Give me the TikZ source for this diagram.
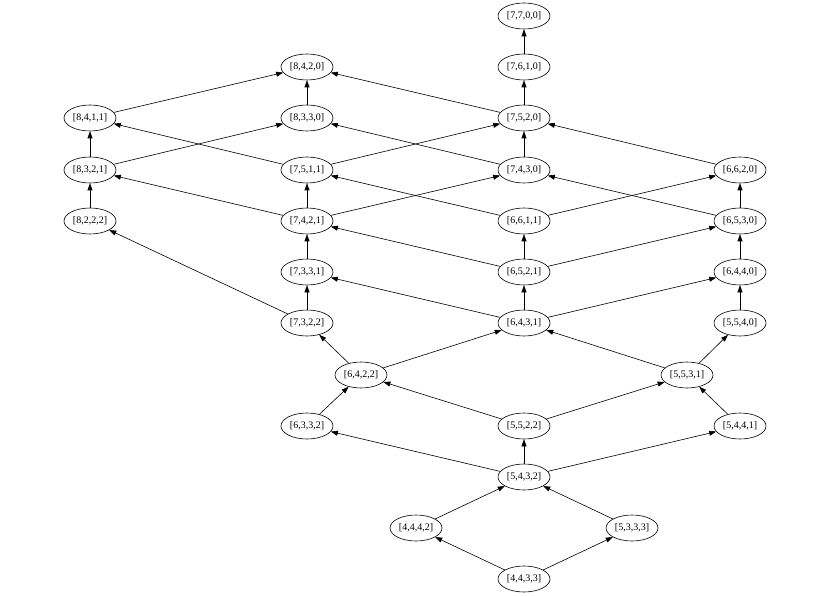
\documentclass[tikz,border=0pt]{standalone}
\usepackage{fontspec}
\setmainfont{Liberation Serif}
\usetikzlibrary{arrows.meta,shapes.geometric}
\begin{document}
\begin{tikzpicture}[x=1pt,y=-1pt,
  part/.style={draw, ellipse, line width=0.6pt, minimum width=52pt, minimum height=26pt, inner sep=0pt, font=\fontsize{10}{12}\selectfont},
  edge/.style={line width=0.6pt, -{Triangle[length=7pt,width=5pt]}}]
\useasboundingbox (0,0) rectangle (830,596);
\def\ra{16}\def\rb{67}\def\rc{118}\def\rd{170}\def\re{221}\def\rf{272}\def\rg{323}\def\rh{375}\def\ri{426}\def\rj{477}\def\rk{528}\def\rl{579}
\node[part] (7700) at (524,\ra) {[7,7,0,0]};
\node[part] (7610) at (524,\rb) {[7,6,1,0]};
\node[part] (8420) at (307,\rb) {[8,4,2,0]};
\node[part] (8411) at (90,\rc) {[8,4,1,1]};
\node[part] (8330) at (307,\rc) {[8,3,3,0]};
\node[part] (7520) at (524,\rc) {[7,5,2,0]};
\node[part] (8321) at (90,\rd) {[8,3,2,1]};
\node[part] (7511) at (307,\rd) {[7,5,1,1]};
\node[part] (7430) at (524,\rd) {[7,4,3,0]};
\node[part] (6620) at (740,\rd) {[6,6,2,0]};
\node[part] (8222) at (90,\re) {[8,2,2,2]};
\node[part] (7421) at (307,\re) {[7,4,2,1]};
\node[part] (6611) at (524,\re) {[6,6,1,1]};
\node[part] (6530) at (740,\re) {[6,5,3,0]};
\node[part] (7331) at (307,\rf) {[7,3,3,1]};
\node[part] (6521) at (524,\rf) {[6,5,2,1]};
\node[part] (6440) at (740,\rf) {[6,4,4,0]};
\node[part] (7322) at (307,\rg) {[7,3,2,2]};
\node[part] (6431) at (524,\rg) {[6,4,3,1]};
\node[part] (5540) at (740,\rg) {[5,5,4,0]};
\node[part] (6422) at (361,\rh) {[6,4,2,2]};
\node[part] (5531) at (687,\rh) {[5,5,3,1]};
\node[part] (6332) at (307,\ri) {[6,3,3,2]};
\node[part] (5522) at (524,\ri) {[5,5,2,2]};
\node[part] (5441) at (740,\ri) {[5,4,4,1]};
\node[part] (5432) at (524,\rj) {[5,4,3,2]};
\node[part] (4442) at (416,\rk) {[4,4,4,2]};
\node[part] (5333) at (632,\rk) {[5,3,3,3]};
\node[part] (4433) at (524,\rl) {[4,4,3,3]};
\foreach \a/\b in {4433/4442,4433/5333,4442/5432,5333/5432,
  5432/6332,5432/5522,5432/5441,6332/6422,5522/6422,5522/5531,5441/5531,
  6422/7322,6422/6431,5531/6431,5531/5540,
  7322/8222,7322/7331,6431/7331,6431/6521,6431/6440,5540/6440,
  7331/7421,6521/7421,6521/6611,6521/6530,6440/6530,
  8222/8321,7421/8321,7421/7511,7421/7430,6611/7511,6611/6620,6530/7430,6530/6620,
  8321/8411,8321/8330,7511/8411,7511/7520,7430/8330,7430/7520,6620/7520,
  8411/8420,8330/8420,7520/8420,7520/7610,7610/7700}
  \draw[edge] (\a) -- (\b);
\end{tikzpicture}
\end{document}
